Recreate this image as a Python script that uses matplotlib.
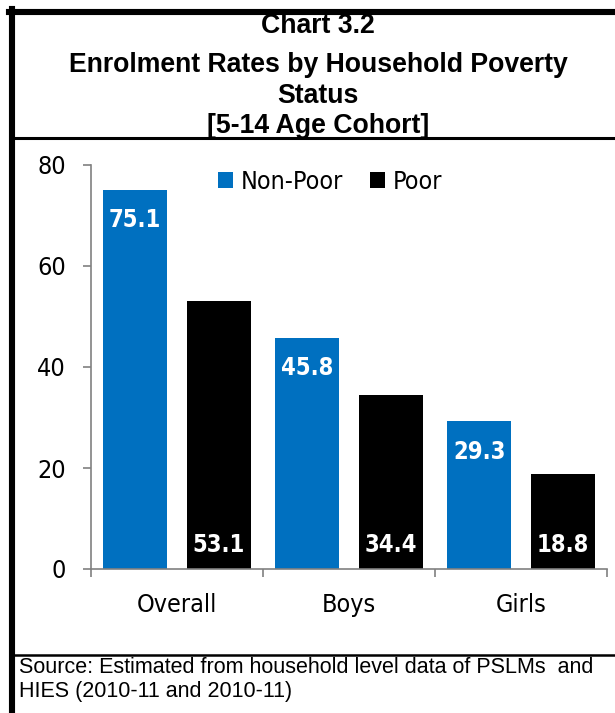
import matplotlib
matplotlib.use('Agg')
import matplotlib.pyplot as plt
from matplotlib.lines import Line2D
import numpy as np

# Data
categories = ['Overall', 'Boys', 'Girls']
non_poor = [75.1, 45.8, 29.3]
poor = [53.1, 34.4, 18.8]
series_names = ['Non-Poor', 'Poor']
y_ticks = [0, 20, 40, 60, 80]

title_lines = ['Chart 3.2', 'Enrolment Rates by Household Poverty', 'Status', '[5-14 Age Cohort]']
source_lines = ['Source: Estimated from household level data of PSLMs  and',
                'HIES (2010-11 and 2010-11)']

BLUE = '#0070C0'
AXIS_GREY = '#808080'
NARROW = 'DejaVu Sans'
W, H = 615, 713


def fx(px):
    return px / W


def fy(py):
    return 1 - py / H


fig = plt.figure(figsize=(W / 100, H / 100), dpi=100)

# frame lines
fig.add_artist(Line2D([fx(12), fx(12)], [fy(9), 0], color='black', lw=4.4))
fig.add_artist(Line2D([fx(9), 1], [fy(12), fy(12)], color='black', lw=4.4))
fig.add_artist(Line2D([fx(15), 1], [fy(138), fy(138)], color='black', lw=2.2))
fig.add_artist(Line2D([fx(15), 1], [fy(655), fy(655)], color='black', lw=1.8))

# title (baselines)
title_y = [33, 72, 103, 133]
for txt, ty in zip(title_lines, title_y):
    fig.text(fx(318), fy(ty), txt, ha='center', va='baseline', fontsize=19.2,
             fontweight='bold', family='Liberation Sans')

# source
for txt, ty in zip(source_lines, [673, 697]):
    fig.text(fx(19), fy(ty), txt, ha='left', va='baseline', fontsize=15.5,
             family='Liberation Sans')

# axes
ax = fig.add_axes([fx(91), fy(569), fx(607) - fx(91), fy(165) - fy(569)])
x = np.arange(len(categories))
bw = 0.373
off = 0.243
bars_np = ax.bar(x - off, non_poor, bw, color=BLUE, label=series_names[0])
bars_p = ax.bar(x + off, poor, bw, color='black', label=series_names[1])

tick_font = dict(family=NARROW, stretch='condensed', size=18)
val_font = dict(family=NARROW, stretch='condensed', size=17, weight='bold')

ax.set_xlim(-0.5, len(categories) - 0.5)
ax.set_ylim(0, 80)
ax.set_yticks(y_ticks)
ax.set_yticklabels([str(t) for t in y_ticks], fontdict=tick_font)
ax.set_xticks(np.arange(len(categories) + 1) - 0.5)
ax.set_xticklabels([])
ax.set_xticks(x, minor=True)
ax.set_xticklabels(categories, minor=True, fontdict=tick_font)
ax.tick_params(axis='x', which='minor', length=0, pad=17)
ax.tick_params(axis='x', which='major', length=6, color=AXIS_GREY, width=1.2)
ax.tick_params(axis='y', length=6, color=AXIS_GREY, width=1.2, pad=12)

for side in ['top', 'right']:
    ax.spines[side].set_visible(False)
for side in ['left', 'bottom']:
    ax.spines[side].set_color(AXIS_GREY)
    ax.spines[side].set_linewidth(1.2)

# value labels
for b, v in zip(bars_np, non_poor):
    ax.annotate(f'{v:.1f}', (b.get_x() + b.get_width() / 2, v), xytext=(0, -27),
                textcoords='offset points', ha='center', va='baseline',
                color='white', fontproperties=val_font)
for b, v in zip(bars_p, poor):
    ax.annotate(f'{v:.1f}', (b.get_x() + b.get_width() / 2, 0), xytext=(0, 12),
                textcoords='offset points', ha='center', va='baseline',
                color='white', fontproperties=val_font)

leg = ax.legend(loc='upper left', ncol=2, frameon=False, prop=tick_font,
                handlelength=0.6, handleheight=0.6, handletextpad=0.3, columnspacing=1.1,
                borderaxespad=0)
leg.set_bbox_to_anchor((fx(208), fy(160)), transform=fig.transFigure)

fig.savefig('out.png', dpi=100)
